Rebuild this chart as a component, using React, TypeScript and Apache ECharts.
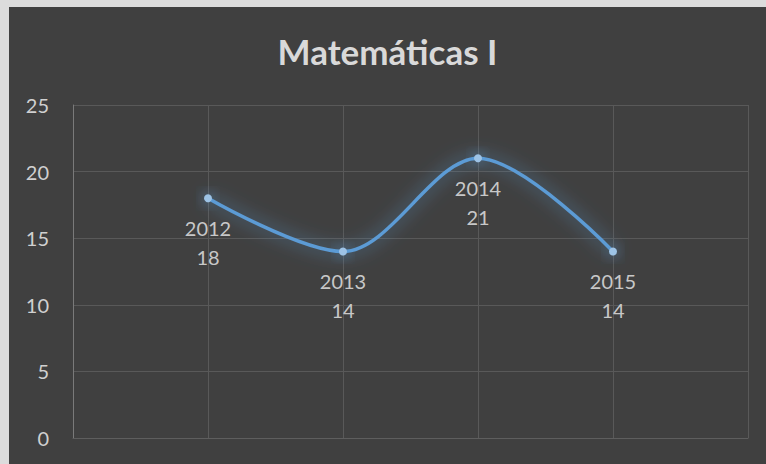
import React, { useEffect, useRef } from "react";
import * as echarts from "echarts";

const titleText = "Matemáticas I";
const years = ["2012", "2013", "2014", "2015"];
const values = [18, 14, 21, 14];
const yTicks = [0, 5, 10, 15, 20, 25];

const FONT = "Lato, 'Open Sans', sans-serif";

export default function App() {
  const ref = useRef<HTMLDivElement>(null);
  useEffect(() => {
    if (!ref.current) return;
    const chart = echarts.init(ref.current, undefined, { renderer: "svg" });
    const data = years.map((y, i) => ({ name: y, value: [i + 1, values[i]] }));
    chart.setOption({
      animation: false,
      backgroundColor: "#404040",
      title: {
        text: titleText,
        left: "center",
        top: 21,
        textStyle: { color: "#d9d9d9", fontSize: 35, fontWeight: "bold", fontFamily: FONT },
      },
      grid: { left: 64, right: 18, top: 98, bottom: 26 },
      xAxis: {
        type: "value",
        min: 0,
        max: years.length + 1,
        interval: 1,
        axisLine: { show: true, lineStyle: { color: "#5e5e5e", width: 1 } },
        axisTick: { show: false },
        axisLabel: { show: false },
        splitLine: { show: true, lineStyle: { color: "#595959", width: 1 } },
      },
      yAxis: {
        type: "value",
        min: yTicks[0],
        max: yTicks[yTicks.length - 1],
        interval: 5,
        axisLine: { show: true, lineStyle: { color: "#7a7a7a", width: 1 } },
        axisTick: { show: false },
        axisLabel: { color: "#d0d0d0", fontSize: 20, fontFamily: FONT, margin: 24 },
        splitLine: { show: true, lineStyle: { color: "#595959", width: 1 } },
      },
      series: [
        {
          type: "line",
          data,
          smooth: 0.33,
          symbol: "circle",
          symbolSize: 8,
          itemStyle: { color: "#9dc3e6", shadowColor: "rgba(91,155,213,1)", shadowBlur: 14 },
          lineStyle: {
            color: "#5b9bd5",
            width: 3.5,
            shadowColor: "rgba(91,155,213,0.9)",
            shadowBlur: 18,
          },
          label: {
            show: true,
            position: "bottom",
            distance: 11,
            color: "#c8c8c8",
            fontSize: 20,
            lineHeight: 29,
            fontFamily: FONT,
            formatter: (p: any) => `${p.name}\n${p.value[1]}`,
          },
        },
      ],
    });
    return () => chart.dispose();
  }, []);
  return (
    <div style={{ position: "fixed", left: 0, top: 0, width: 766, height: 464, background: "#dcdcdc" }}>
      <div ref={ref} style={{ position: "absolute", left: 9, top: 7, width: 757, height: 457 }} />
    </div>
  );
}
